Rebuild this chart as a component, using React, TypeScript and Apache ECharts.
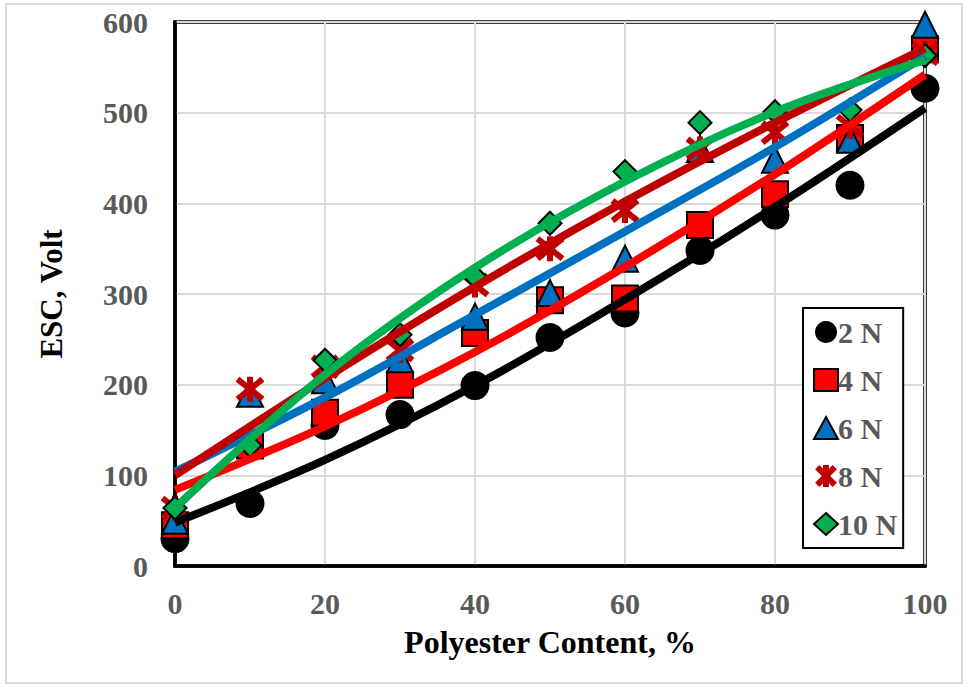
import React, { useEffect, useRef } from "react";
import * as echarts from "echarts";

const xValues = [0, 10, 20, 30, 40, 50, 60, 70, 80, 90, 100];
const seriesNames = ["2 N", "4 N", "6 N", "8 N", "10 N"];
const n2 = [30, 69, 155, 167, 199, 252, 279, 348, 387, 420, 527];
const n4 = [45, 133, 169, 200, 257, 293, 295, 376, 410, 472, 570];
const n6 = [50, 190, 205, 228, 275, 301, 339, 460, 448, 470, 597];
const n8 = [64, 195, 220, 238, 310, 350, 392, 460, 478, 485, 565];
const n10 = [64, 133, 227, 255, 319, 378, 435, 489, 501, 503, 563];

const trendX = [0, 20, 40, 60, 80, 100];
const trend2 = [48, 117, 199, 294, 396, 505];
const trend4 = [84, 154, 236, 330, 432, 542];
const trend6 = [104, 186, 277, 369, 462, 562];
const trend8 = [100, 207, 308, 402, 489, 571];
const trend10 = [64, 211, 329, 424, 501, 558];

const xTicks = ["0", "20", "40", "60", "80", "100"];
const yTicks = ["0", "100", "200", "300", "400", "500", "600"];

const colors = ["#000000", "#FF0000", "#0070C0", "#C00000", "#00B050"];
const STAR = "path://M1,1 L9,9 M9,1 L1,9 M5,0 L5,10";

export default function App() {
  const ref = useRef<HTMLDivElement>(null);
  useEffect(() => {
    document.body.style.margin = "0";
    const chart = echarts.init(ref.current!, null, { renderer: "svg" });
    const values = [n2, n4, n6, n8, n10];
    const trends = [trend2, trend4, trend6, trend8, trend10];
    const symbols = ["circle", "rect", "triangle", STAR, "diamond"];
    const sizes = [29, 26, 26, 25, 23];
    const font = "'Liberation Serif', 'Times New Roman', serif";

    const scatter = values.map((v, i) => ({
      name: seriesNames[i],
      type: "scatter",
      symbol: symbols[i],
      symbolSize: sizes[i],
      z: 2 + i * 0.1,
      itemStyle:
        i === 3
          ? { color: colors[i], borderColor: colors[i], borderWidth: 6, opacity: 1 }
          : i === 0
          ? { color: colors[i], borderColor: "#000", borderWidth: 0, opacity: 1 }
          : { color: colors[i], borderColor: "#000", borderWidth: 2, opacity: 1 },
      emphasis: { disabled: true },
      data: v.map((y, j) => [xValues[j], y]),
    }));
    const lines = trends.map((t, i) => ({
      name: seriesNames[i] + " trend",
      type: "line",
      smooth: 0.35,
      symbol: "none",
      z: 3 + i * 0.1,
      lineStyle: { color: colors[i], width: 8 },
      data: t.map((y, j) => [trendX[j], y]),
    }));

    const legendData = seriesNames.map((name, i) =>
      i === 3
        ? { name, itemStyle: { color: colors[i], borderColor: colors[i], borderWidth: 6 } }
        : i === 0
        ? { name, itemStyle: { color: colors[i], borderWidth: 0 } }
        : { name, itemStyle: { color: colors[i], borderColor: "#000", borderWidth: 2 } }
    );

    chart.setOption({
      animation: false,
      backgroundColor: "#ffffff",
      textStyle: { fontFamily: font },
      graphic: [
        {
          type: "rect",
          shape: { x: 6, y: 4, width: 956, height: 679 },
          style: { fill: "none", stroke: "#D9D9D9", lineWidth: 2 },
          z: -10,
        },
      ],
      grid: {
        left: 175,
        right: 43,
        top: 22,
        bottom: 121,
        show: true,
        borderColor: "#000",
        borderWidth: 3.5,
      },
      legend: {
        data: legendData,
        orient: "vertical",
        left: 803,
        top: 308,
        width: 103,
        padding: [9, 6, 9, 10],
        itemGap: 18,
        itemWidth: 24,
        itemHeight: 22,
        borderColor: "#000",
        borderWidth: 2,
        backgroundColor: "#ffffff",
        textStyle: {
          color: "#595959",
          fontWeight: "bold",
          fontSize: 30,
          fontFamily: font,
          padding: [0, 0, 0, -5],
        },
        z: 10,
      },
      xAxis: {
        type: "value",
        min: 0,
        max: 100,
        interval: 20,
        name: "Polyester Content, %",
        nameLocation: "middle",
        nameGap: 60,
        nameTextStyle: { color: "#000", fontWeight: "bold", fontSize: 32, fontFamily: font },
        axisLine: { show: true, lineStyle: { color: "#000", width: 3.5 } },
        axisTick: { show: false },
        axisLabel: {
          color: "#595959",
          fontWeight: "bold",
          fontSize: 30,
          fontFamily: font,
          margin: 22,
          formatter: (v: number) => xTicks[Math.round(v / 20)] ?? String(v),
        },
        splitLine: { show: true, lineStyle: { color: "#D9D9D9", width: 2 } },
      },
      yAxis: {
        type: "value",
        min: 0,
        max: 600,
        interval: 100,
        name: "ESC, Volt",
        nameLocation: "middle",
        nameGap: 108,
        nameTextStyle: { color: "#000", fontWeight: "bold", fontSize: 31, fontFamily: font },
        axisLine: { show: true, lineStyle: { color: "#000", width: 3.5 } },
        axisTick: { show: false },
        axisLabel: {
          color: "#595959",
          fontWeight: "bold",
          fontSize: 30,
          fontFamily: font,
          margin: 27,
          formatter: (v: number) => yTicks[Math.round(v / 100)] ?? String(v),
        },
        splitLine: { show: true, lineStyle: { color: "#D9D9D9", width: 2 } },
      },
      series: [...scatter, ...lines],
    });
    return () => chart.dispose();
  }, []);
  return <div ref={ref} style={{ width: 968, height: 687 }} />;
}
